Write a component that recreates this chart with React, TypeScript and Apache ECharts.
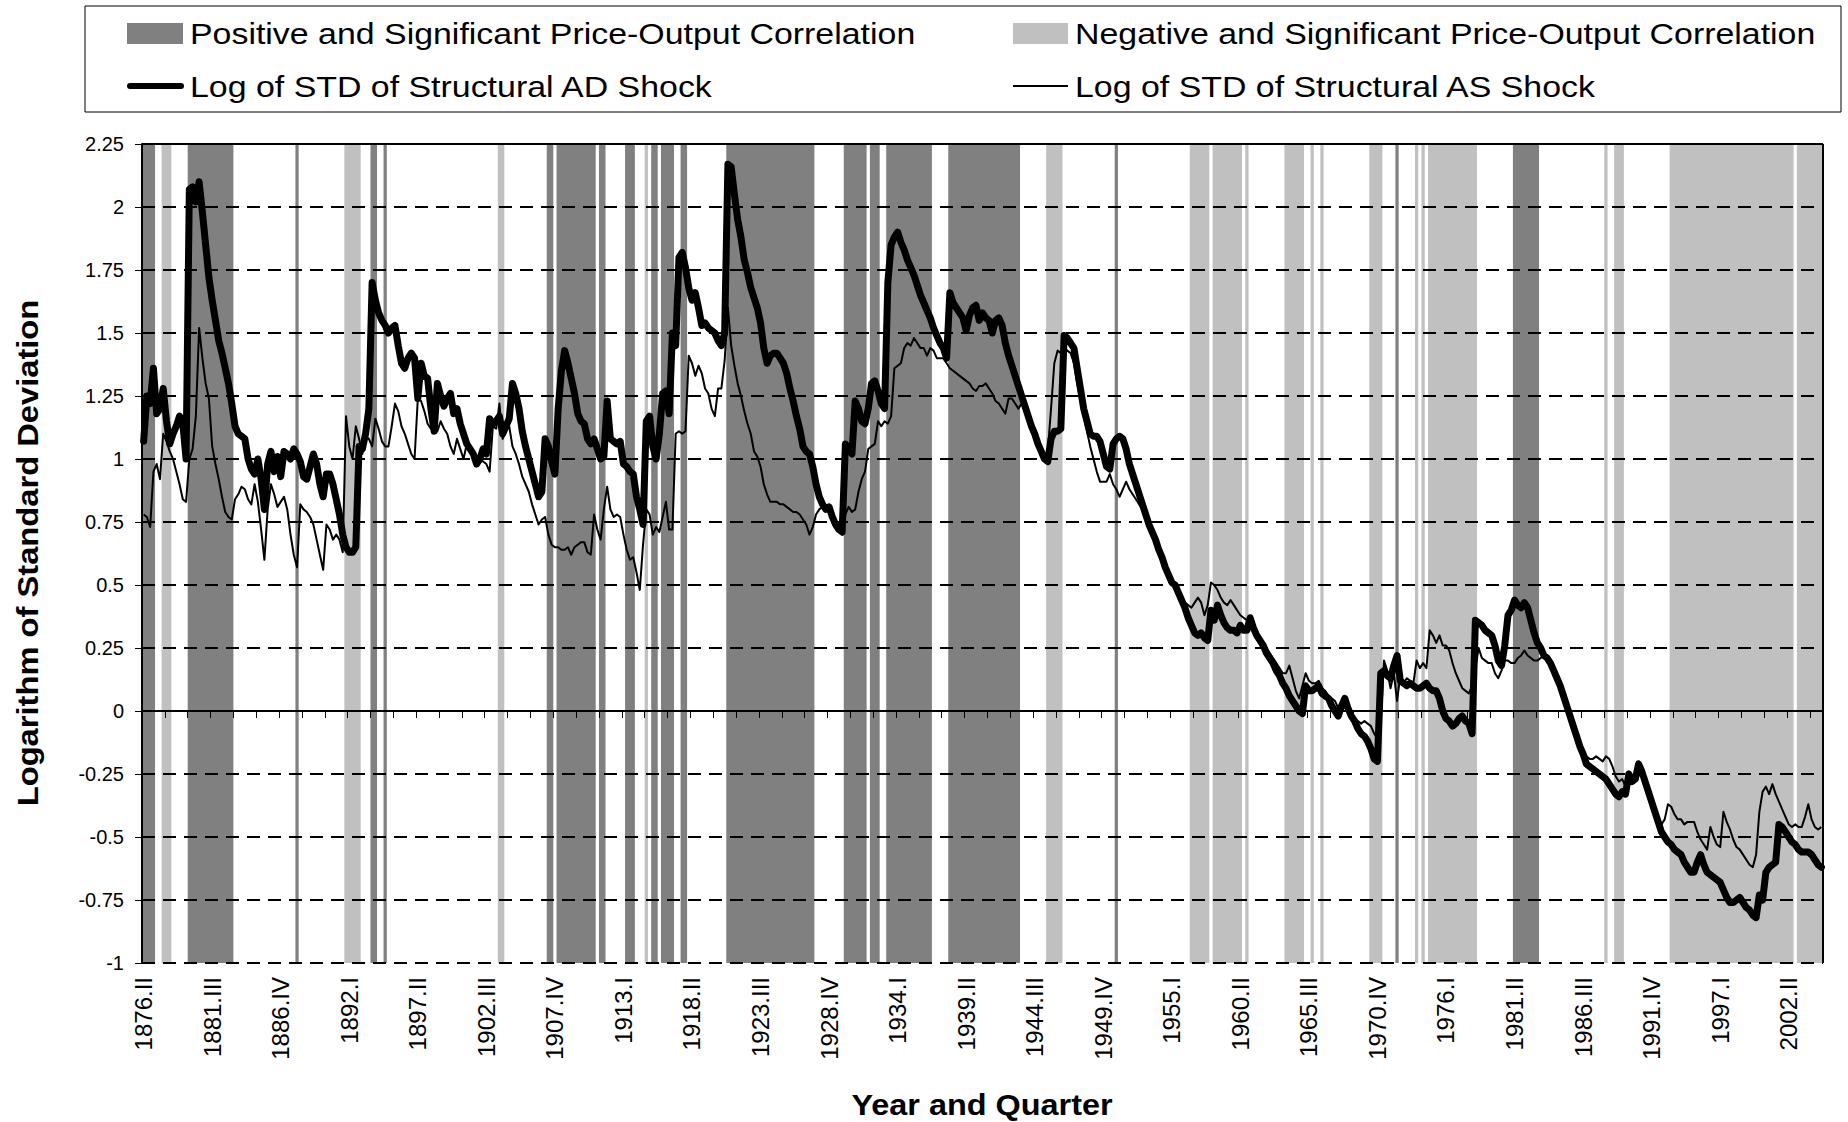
import React, { useEffect, useRef } from "react";
import * as echarts from "echarts";

// ---------- categories: quarterly, 1876.II .. 2004.IV ----------
const quarterNames = ["I", "II", "III", "IV"];
const categories: string[] = [];
for (let i = 0; i < 515; i++) {
  const q = 1 + i;
  categories.push(`${1876 + Math.floor(q / 4)}.${quarterNames[q % 4]}`);
}

// ---------- Log of STD of Structural AD Shock (thick) ----------
const adShock: number[] = [
  1.07, 1.25, 1.22, 1.36, 1.18, 1.20, 1.28, 1.15, 1.06, 1.10,
  1.13, 1.17, 1.14, 1.00, 2.07, 2.08, 2.02, 2.10, 1.98, 1.85,
  1.72, 1.63, 1.55, 1.47, 1.42, 1.36, 1.30, 1.22, 1.13, 1.10,
  1.09, 1.08, 1.00, 0.96, 0.94, 1.00, 0.92, 0.80, 0.98, 1.03,
  0.95, 1.01, 0.93, 1.03, 1.02, 1.00, 1.04, 1.02, 0.99, 0.93,
  0.92, 0.97, 1.02, 0.98, 0.90, 0.85, 0.94, 0.94, 0.90, 0.84,
  0.78, 0.70, 0.65, 0.63, 0.63, 0.65, 1.05, 1.04, 1.10, 1.20,
  1.70, 1.63, 1.58, 1.55, 1.53, 1.50, 1.52, 1.53, 1.45, 1.38,
  1.36, 1.40, 1.42, 1.40, 1.24, 1.38, 1.33, 1.32, 1.20, 1.11,
  1.30, 1.25, 1.21, 1.24, 1.26, 1.18, 1.20, 1.14, 1.10, 1.06,
  1.04, 1.02, 0.98, 1.00, 1.04, 1.02, 1.16, 1.14, 1.15, 1.17,
  1.10, 1.13, 1.16, 1.30, 1.26, 1.20, 1.11, 1.05, 1.00, 0.95,
  0.90, 0.85, 0.87, 1.08, 1.05, 0.99, 0.94, 1.20, 1.35, 1.43,
  1.38, 1.32, 1.26, 1.18, 1.15, 1.14, 1.08, 1.06, 1.08, 1.04,
  1.00, 1.01, 1.23, 1.08, 1.07, 1.06, 1.07, 0.98, 0.97, 0.95,
  0.94, 0.85, 0.80, 0.74, 1.15, 1.17, 1.05, 1.00, 1.10, 1.26,
  1.27, 1.18, 1.50, 1.45, 1.80, 1.82, 1.76, 1.68, 1.63, 1.66,
  1.60, 1.53, 1.54, 1.52, 1.51, 1.50, 1.47, 1.45, 1.50, 2.17,
  2.16, 2.05, 1.95, 1.88, 1.79, 1.74, 1.68, 1.64, 1.60, 1.54,
  1.44, 1.38, 1.41, 1.42, 1.42, 1.40, 1.38, 1.34, 1.28, 1.23,
  1.17, 1.12, 1.05, 1.03, 1.02, 0.97, 0.90, 0.85, 0.82, 0.80,
  0.81, 0.77, 0.74, 0.72, 0.71, 1.06, 1.04, 1.02, 1.23, 1.20,
  1.15, 1.14, 1.20, 1.30, 1.31, 1.27, 1.22, 1.20, 1.70, 1.85,
  1.88, 1.90, 1.86, 1.83, 1.79, 1.76, 1.73, 1.69, 1.65, 1.62,
  1.59, 1.56, 1.52, 1.49, 1.46, 1.44, 1.40, 1.66, 1.62, 1.60,
  1.58, 1.56, 1.51, 1.57, 1.60, 1.61, 1.55, 1.58, 1.56, 1.55,
  1.50, 1.55, 1.56, 1.53, 1.46, 1.41, 1.37, 1.33, 1.29, 1.25,
  1.21, 1.17, 1.13, 1.10, 1.06, 1.03, 1.00, 0.99, 1.08, 1.11,
  1.11, 1.12, 1.49, 1.48, 1.46, 1.44, 1.36, 1.28, 1.20, 1.15,
  1.10, 1.09, 1.09, 1.07, 1.02, 0.97, 0.96, 1.06, 1.08, 1.09,
  1.08, 1.04, 0.98, 0.94, 0.90, 0.86, 0.82, 0.78, 0.74, 0.71,
  0.68, 0.64, 0.61, 0.57, 0.54, 0.51, 0.50, 0.47, 0.44, 0.41,
  0.37, 0.34, 0.31, 0.30, 0.31, 0.29, 0.28, 0.40, 0.36, 0.42,
  0.38, 0.35, 0.33, 0.32, 0.32, 0.31, 0.34, 0.32, 0.32, 0.37,
  0.33, 0.30, 0.28, 0.26, 0.23, 0.21, 0.19, 0.16, 0.14, 0.11,
  0.09, 0.06, 0.04, 0.02, 0.00, -0.01, 0.10, 0.08, 0.08, 0.09,
  0.10, 0.07, 0.06, 0.05, 0.02, 0.00, -0.02, 0.02, 0.05, 0.01,
  -0.02, -0.04, -0.07, -0.09, -0.10, -0.12, -0.15, -0.19, -0.20, 0.15,
  0.16, 0.14, 0.13, 0.18, 0.22, 0.12, 0.11, 0.10, 0.11, 0.10,
  0.09, 0.09, 0.10, 0.11, 0.09, 0.08, 0.08, 0.05, 0.00, -0.03,
  -0.04, -0.06, -0.05, -0.03, -0.02, -0.04, -0.05, -0.09, 0.36, 0.35,
  0.34, 0.32, 0.31, 0.30, 0.26, 0.20, 0.18, 0.26, 0.38, 0.40,
  0.44, 0.42, 0.41, 0.43, 0.41, 0.36, 0.31, 0.27, 0.25, 0.22,
  0.21, 0.19, 0.16, 0.13, 0.10, 0.06, 0.02, -0.02, -0.06, -0.10,
  -0.14, -0.17, -0.21, -0.22, -0.23, -0.24, -0.25, -0.26, -0.27, -0.29,
  -0.31, -0.33, -0.34, -0.32, -0.33, -0.25, -0.28, -0.27, -0.21, -0.24,
  -0.28, -0.32, -0.36, -0.40, -0.44, -0.48, -0.50, -0.52, -0.53, -0.55,
  -0.56, -0.57, -0.60, -0.62, -0.64, -0.64, -0.60, -0.57, -0.61, -0.64,
  -0.65, -0.66, -0.67, -0.68, -0.71, -0.74, -0.76, -0.76, -0.75, -0.74,
  -0.76, -0.78, -0.79, -0.81, -0.82, -0.73, -0.75, -0.64, -0.62, -0.61,
  -0.60, -0.45, -0.46, -0.48, -0.50, -0.52, -0.53, -0.55, -0.56, -0.56,
  -0.56, -0.57, -0.59, -0.61, -0.62,
];

// ---------- Log of STD of Structural AS Shock (thin) ----------
const asShock: number[] = [
  0.78, 0.77, 0.73, 0.95, 0.98, 0.92, 1.10, 1.07, 1.03, 1.00,
  0.95, 0.90, 0.84, 0.83, 1.00, 1.04, 1.17, 1.52, 1.40, 1.30,
  1.24, 1.05, 0.98, 0.92, 0.85, 0.79, 0.77, 0.76, 0.84, 0.86,
  0.89, 0.88, 0.84, 0.82, 0.90, 0.83, 0.72, 0.60, 0.80, 0.90,
  0.86, 0.81, 0.83, 0.85, 0.80, 0.70, 0.62, 0.57, 0.82, 0.80,
  0.79, 0.77, 0.74, 0.68, 0.62, 0.56, 0.74, 0.72, 0.68, 0.70,
  0.68, 0.63, 1.17, 1.05, 1.00, 1.13, 1.08, 1.02, 1.09, 1.08,
  1.05, 1.16, 1.12, 1.07, 1.05, 1.05, 1.13, 1.22, 1.19, 1.13,
  1.10, 1.06, 1.02, 1.00, 1.24, 1.23, 1.19, 1.14, 1.12, 1.11,
  1.11, 1.15, 1.12, 1.10, 1.05, 1.02, 1.08, 1.04, 1.00, 1.06,
  1.04, 1.02, 1.00, 1.00, 0.99, 0.98, 0.95, 1.13, 1.12, 1.22,
  1.08, 1.11, 1.13, 1.05, 1.02, 0.98, 0.93, 0.90, 0.87, 0.82,
  0.78, 0.74, 0.76, 0.77, 0.70, 0.66, 0.65, 0.65, 0.64, 0.64,
  0.65, 0.62, 0.65, 0.66, 0.67, 0.67, 0.63, 0.62, 0.78, 0.72,
  0.68, 0.80, 0.89, 0.80, 0.77, 0.78, 0.77, 0.70, 0.64, 0.60,
  0.61, 0.55, 0.48, 0.66, 0.80, 0.78, 0.70, 0.73, 0.71, 0.77,
  0.83, 0.72, 0.72, 1.10, 1.11, 1.10, 1.11, 1.41, 1.38, 1.33,
  1.37, 1.34, 1.28, 1.26, 1.20, 1.17, 1.28, 1.28, 1.39, 1.60,
  1.45, 1.37, 1.30, 1.25, 1.19, 1.14, 1.10, 1.03, 1.01, 0.97,
  0.90, 0.86, 0.83, 0.83, 0.83, 0.82, 0.82, 0.81, 0.80, 0.79,
  0.79, 0.78, 0.76, 0.74, 0.70, 0.73, 0.78, 0.80, 0.81, 0.81,
  0.79, 0.77, 0.73, 0.72, 0.70, 0.78, 0.81, 0.79, 0.80, 0.87,
  0.92, 0.95, 1.04, 1.05, 1.06, 1.15, 1.13, 1.15, 1.14, 1.17,
  1.36, 1.37, 1.38, 1.44, 1.46, 1.45, 1.48, 1.46, 1.44, 1.44,
  1.41, 1.44, 1.43, 1.40, 1.40, 1.40, 1.38, 1.36, 1.35, 1.34,
  1.33, 1.32, 1.31, 1.30, 1.28, 1.27, 1.29, 1.29, 1.30, 1.28,
  1.26, 1.23, 1.22, 1.20, 1.18, 1.24, 1.24, 1.22, 1.20, 1.22,
  1.19, 1.15, 1.11, 1.08, 1.05, 1.02, 1.00, 1.03, 1.20, 1.38,
  1.43, 1.42, 1.44, 1.43, 1.42, 1.38, 1.30, 1.24, 1.17, 1.11,
  1.05, 1.00, 0.95, 0.91, 0.91, 0.91, 0.94, 0.90, 0.88, 0.85,
  0.88, 0.91, 0.88, 0.86, 0.84, 0.82, 0.80, 0.77, 0.74, 0.71,
  0.69, 0.65, 0.62, 0.58, 0.55, 0.52, 0.49, 0.47, 0.45, 0.43,
  0.42, 0.41, 0.43, 0.45, 0.43, 0.38, 0.42, 0.51, 0.50, 0.48,
  0.45, 0.43, 0.42, 0.44, 0.42, 0.40, 0.38, 0.37, 0.36, 0.36,
  0.34, 0.31, 0.29, 0.27, 0.25, 0.23, 0.21, 0.19, 0.17, 0.15,
  0.15, 0.18, 0.13, 0.08, 0.05, 0.10, 0.15, 0.12, 0.11, 0.11,
  0.12, 0.09, 0.08, 0.06, 0.05, 0.04, 0.01, 0.03, 0.04, 0.02,
  -0.01, -0.03, -0.04, -0.05, -0.04, -0.05, -0.06, -0.09, -0.11, -0.05,
  0.20, 0.16, 0.09, 0.15, 0.04, 0.14, 0.11, 0.13, 0.12, 0.11,
  0.20, 0.17, 0.19, 0.17, 0.32, 0.30, 0.27, 0.30, 0.26, 0.26,
  0.24, 0.19, 0.15, 0.12, 0.09, 0.08, 0.07, 0.10, 0.17, 0.25,
  0.21, 0.20, 0.19, 0.19, 0.15, 0.13, 0.16, 0.20, 0.20, 0.19,
  0.19, 0.21, 0.22, 0.24, 0.22, 0.21, 0.20, 0.20, 0.21, 0.22,
  0.21, 0.19, 0.16, 0.13, 0.10, 0.06, 0.02, -0.02, -0.06, -0.10,
  -0.14, -0.16, -0.18, -0.19, -0.19, -0.18, -0.19, -0.20, -0.18, -0.19,
  -0.22, -0.26, -0.28, -0.27, -0.30, -0.24, -0.27, -0.25, -0.20, -0.23,
  -0.27, -0.31, -0.35, -0.39, -0.42, -0.45, -0.43, -0.37, -0.38, -0.41,
  -0.43, -0.43, -0.45, -0.44, -0.44, -0.44, -0.48, -0.51, -0.53, -0.55,
  -0.46, -0.50, -0.53, -0.54, -0.40, -0.44, -0.47, -0.51, -0.54, -0.55,
  -0.57, -0.59, -0.61, -0.62, -0.57, -0.40, -0.32, -0.30, -0.33, -0.29,
  -0.33, -0.36, -0.39, -0.42, -0.45, -0.46, -0.45, -0.46, -0.46, -0.42,
  -0.37, -0.43, -0.46, -0.47, -0.46,
];

// ---------- shaded periods (first and last quarter index, inclusive) ----------
const positiveBands: [number, number][] = [
  [0, 3], [14, 27], [47, 47], [70, 71], [74, 74], [124, 125], [127, 138],
  [140, 141], [148, 150], [156, 157], [159, 162], [165, 166], [179, 205],
  [215, 221], [223, 225], [228, 241], [247, 268], [298, 298], [384, 384],
  [420, 427],
];
const negativeBands: [number, number][] = [
  [6, 8], [62, 66], [109, 110], [154, 154], [277, 281], [321, 326],
  [328, 336], [338, 338], [350, 355], [358, 358], [361, 361], [376, 379],
  [390, 390], [392, 392], [394, 408], [448, 448], [451, 453], [468, 505],
  [507, 514],
];

const POS_COLOR = "#808080";
const NEG_COLOR = "#c0c0c0";
const FONT = '"Liberation Sans", Arial, sans-serif';

const LEGEND_POS = "Positive and Significant Price-Output Correlation";
const LEGEND_NEG = "Negative and Significant Price-Output Correlation";
const LEGEND_AD = "Log of STD of Structural AD Shock";
const LEGEND_AS = "Log of STD of Structural AS Shock";

export default function App() {
  const ref = useRef<HTMLDivElement>(null);

  useEffect(() => {
    if (!ref.current) return;
    const chart = echarts.init(ref.current, undefined, { renderer: "svg" });
    const n = categories.length;

    const bandArea = (bands: [number, number][], color: string) => ({
      silent: true,
      z: 1,
      itemStyle: { color, borderWidth: 0 },
      label: { show: false },
      data: bands.map(([a, b]) => [{ xAxis: a }, { xAxis: b + 1 }]),
    });

    const legendText = (text: string, x: number, y: number) => ({
      type: "text",
      x,
      y,
      scaleX: 1.13,
      style: {
        text,
        font: `30px ${FONT}`,
        fill: "#000",
        verticalAlign: "middle",
        textVerticalAlign: "middle",
      },
    });

    chart.setOption({
      animation: false,
      backgroundColor: "#ffffff",
      textStyle: { fontFamily: FONT },
      grid: { left: 142, right: 25, top: 144, bottom: 159, containLabel: false },
      xAxis: [
        {
          type: "category",
          data: categories,
          boundaryGap: true,
          z: 2,
          axisLine: { show: true, lineStyle: { color: "#000", width: 2 } },
          axisTick: {
            show: true,
            interval: 6,
            length: 7,
            lineStyle: { color: "#000", width: 1 },
          },
          axisLabel: {
            interval: 20,
            rotate: 90,
            fontSize: 24,
            color: "#000",
            fontFamily: FONT,
            margin: 14,
          },
          splitLine: { show: false },
        },
        { type: "value", min: 0, max: n, show: false },
      ],
      yAxis: {
        type: "value",
        min: -1,
        max: 2.25,
        interval: 0.25,
        z: 2,
        axisLine: { show: true, lineStyle: { color: "#000", width: 2 } },
        axisTick: { show: true, length: 7, lineStyle: { color: "#000", width: 1 } },
        axisLabel: { fontSize: 20, color: "#000", fontFamily: FONT, margin: 18 },
        splitLine: {
          show: true,
          lineStyle: { color: "#000", width: 2, type: [13, 8] },
        },
      },
      series: [
        {
          name: LEGEND_POS,
          type: "line",
          xAxisIndex: 1,
          data: [],
          z: 1,
          markArea: bandArea(positiveBands, POS_COLOR),
          markLine: {
            silent: true,
            z: 5,
            symbol: "none",
            label: { show: false },
            lineStyle: { color: "#000", width: 2, type: "solid" },
            data: [{ xAxis: n }],
          },
        },
        {
          name: LEGEND_NEG,
          type: "line",
          xAxisIndex: 1,
          data: [],
          z: 1,
          markArea: bandArea(negativeBands, NEG_COLOR),
        },
        {
          name: LEGEND_AS,
          type: "line",
          data: asShock,
          symbol: "none",
          showSymbol: false,
          z: 4,
          lineStyle: { color: "#000", width: 2, join: "round" },
        },
        {
          name: LEGEND_AD,
          type: "line",
          data: adShock,
          symbol: "none",
          showSymbol: false,
          z: 5,
          lineStyle: { color: "#000", width: 7, cap: "round", join: "round" },
          markLine: {
            silent: true,
            z: 3,
            symbol: "none",
            label: { show: false },
            lineStyle: { color: "#000", width: 2, type: "solid" },
            data: [{ yAxis: 0 }, { yAxis: 2.25 }],
          },
        },
      ],
      graphic: [
        {
          type: "rect",
          shape: { x: 85, y: 6, width: 1756, height: 106 },
          style: { fill: "#fff", stroke: "#000", lineWidth: 1 },
        },
        {
          type: "rect",
          shape: { x: 127, y: 23, width: 56, height: 21 },
          style: { fill: POS_COLOR },
        },
        legendText(LEGEND_POS, 190, 34),
        {
          type: "rect",
          shape: { x: 1013, y: 23, width: 55, height: 21 },
          style: { fill: NEG_COLOR },
        },
        legendText(LEGEND_NEG, 1075, 34),
        {
          type: "line",
          shape: { x1: 130, y1: 86, x2: 181, y2: 86 },
          style: { stroke: "#000", lineWidth: 6, lineCap: "round" },
        },
        legendText(LEGEND_AD, 190, 87),
        {
          type: "line",
          shape: { x1: 1013, y1: 86, x2: 1068, y2: 86 },
          style: { stroke: "#000", lineWidth: 2 },
        },
        legendText(LEGEND_AS, 1075, 87),
        {
          type: "text",
          x: 982,
          y: 1105,
          scaleX: 1.08,
          style: {
            text: "Year and Quarter",
            font: `bold 30px ${FONT}`,
            fill: "#000",
            align: "center",
            textAlign: "center",
            verticalAlign: "middle",
            textVerticalAlign: "middle",
          },
        },
        {
          type: "text",
          x: 28,
          y: 553,
          rotation: Math.PI / 2,
          scaleX: 1.09,
          style: {
            text: "Logarithm of Standard Deviation",
            font: `bold 30px ${FONT}`,
            fill: "#000",
            align: "center",
            textAlign: "center",
            verticalAlign: "middle",
            textVerticalAlign: "middle",
          },
        },
      ],
    });

    return () => chart.dispose();
  }, []);

  return (
    <div
      ref={ref}
      style={{ position: "absolute", left: 0, top: 0, width: 1848, height: 1122 }}
    />
  );
}
